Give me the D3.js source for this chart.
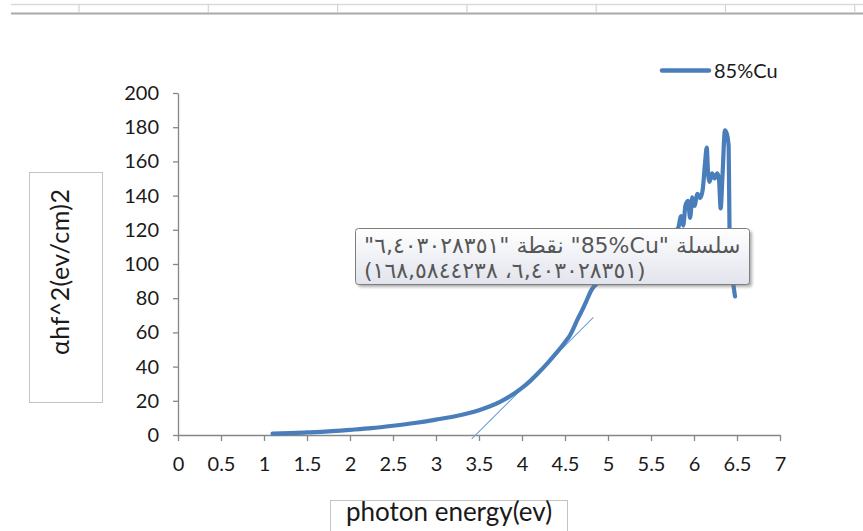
<!DOCTYPE html>
<html>
<head>
<meta charset="utf-8">
<script src="https://cdn.jsdelivr.net/npm/d3@7/dist/d3.min.js"></script>
<style>
  html, body { margin: 0; padding: 0; background: #ffffff; }
  svg { display: block; }
</style>
</head>
<body>
<svg id="chart" width="863" height="531"></svg>
<script>
// ---- data -------------------------------------------------------------
const seriesName = "85%Cu";

// photon energy (eV)
const photonEnergy = [
  1.10, 1.30, 1.50, 1.75, 2.00, 2.25, 2.50, 2.75, 3.00, 3.25,
  3.50, 3.75, 4.00, 4.10, 4.20, 4.30, 4.40, 4.50, 4.56, 4.60,
  4.64, 4.70, 4.75, 4.81, 4.88, 5.00, 5.15, 5.30, 5.45, 5.60,
  5.72, 5.814, 5.85, 5.875, 5.90, 5.93, 5.955, 5.98, 6.005, 6.04,
  6.07, 6.10, 6.13, 6.148, 6.165, 6.18, 6.21, 6.24, 6.27, 6.29,
  6.31, 6.33, 6.36, 6.384, 6.403028351, 6.413, 6.453, 6.477
];

// (αhν)^2
const absorption = [
  0.8, 1.1, 1.5, 2.1, 3.0, 4.0, 5.4, 7.0, 9.0, 11.3,
  14.5, 19.5, 27.5, 31.8, 36.8, 42.2, 48.0, 54.3, 58.5, 62.5,
  67.0, 73.0, 78.5, 85.0, 89.0, 94.0, 99.0, 104.0, 109.0, 113.0,
  118.0, 120.8, 128.0, 122.5, 134.0, 137.0, 127.0, 139.0, 134.0, 141.0,
  138.5, 143.0, 160.0, 168.1, 152.0, 148.0, 153.0, 150.0, 153.0, 150.0,
  132.5, 150.0, 178.1, 175.7, 168.5844238, 120.8, 90.4, 81.0
];

// straight-line fit used to read the band gap
const tangentEnergy = [3.415, 4.83];
const tangentValue  = [-2.3, 68.8];

// hovered point shown in the data tip
const hoverEnergy = 6.403028351;

const xTickValues = [0, 0.5, 1, 1.5, 2, 2.5, 3, 3.5, 4, 4.5, 5, 5.5, 6, 6.5, 7];
const xTickLabels = ["0", "0.5", "1", "1.5", "2", "2.5", "3", "3.5", "4", "4.5", "5", "5.5", "6", "6.5", "7"];
const yTickValues = [0, 20, 40, 60, 80, 100, 120, 140, 160, 180, 200];
const yTickLabels = ["0", "20", "40", "60", "80", "100", "120", "140", "160", "180", "200"];

const xTitle = "photon energy(ev)";
const yTitle = "αhf^2(ev/cm)2";

// ---- drawing ----------------------------------------------------------
const svg = d3.select("#chart");
const lineColor = "#4a7ebb";
const axisColor = "#868686";
const font = "Lato, 'Liberation Sans', sans-serif";

// spreadsheet row strip along the top
const strip = svg.append("g");
strip.append("line").attr("x1", 11).attr("x2", 863).attr("y1", 4.5).attr("y2", 4.5)
  .attr("stroke", "#dadada").attr("stroke-width", 1.5);
strip.append("line").attr("x1", 11).attr("x2", 863).attr("y1", 13.5).attr("y2", 13.5)
  .attr("stroke", "#a9a9a9").attr("stroke-width", 2);
strip.selectAll("line.col").data(d3.range(7)).join("line")
  .attr("class", "col")
  .attr("x1", i => 79 + i * 129.3).attr("x2", i => 79 + i * 129.3)
  .attr("y1", 4).attr("y2", 13)
  .attr("stroke", "#d4d4d4").attr("stroke-width", 1.2);

const x = d3.scaleLinear().domain([0, 7]).range([178, 780]);
const y = d3.scaleLinear().domain([0, 200]).range([435, 93]);

// axes
const xAxis = d3.axisBottom(x)
  .tickValues(xTickValues)
  .tickFormat((d, i) => xTickLabels[i])
  .tickSize(6).tickSizeOuter(0).tickPadding(16);
const yAxis = d3.axisLeft(y)
  .tickValues(yTickValues)
  .tickFormat((d, i) => yTickLabels[i])
  .tickSize(5).tickSizeOuter(0).tickPadding(14);

const gx = svg.append("g").attr("transform", `translate(0,${y(0)})`).call(xAxis);
const gy = svg.append("g").attr("transform", `translate(${x(0)},0)`).call(yAxis);
[gx, gy].forEach(g => {
  g.select(".domain").attr("stroke", axisColor).attr("stroke-width", 1.3);
  g.selectAll(".tick line").attr("stroke", axisColor).attr("stroke-width", 1.3);
  g.selectAll(".tick text")
    .attr("fill", "#1a1a1a")
    .style("font-family", font)
    .style("font-size", "20px");
});

// tangent line
svg.append("line")
  .attr("x1", x(tangentEnergy[0])).attr("y1", y(tangentValue[0]))
  .attr("x2", x(tangentEnergy[1])).attr("y2", y(tangentValue[1]))
  .attr("stroke", "#6e9fd6").attr("stroke-width", 1.1);

// series line
const points = photonEnergy.map((e, i) => [e, absorption[i]]);
const line = d3.line()
  .x(d => x(d[0])).y(d => y(d[1]))
  .curve(d3.curveMonotoneX);
svg.append("path")
  .datum(points)
  .attr("d", line)
  .attr("fill", "none")
  .attr("stroke", lineColor)
  .attr("stroke-width", 4.2)
  .attr("stroke-linejoin", "round")
  .attr("stroke-linecap", "round");

// legend
svg.append("line")
  .attr("x1", 662).attr("x2", 709).attr("y1", 70.5).attr("y2", 70.5)
  .attr("stroke", lineColor).attr("stroke-width", 4.5).attr("stroke-linecap", "round");
svg.append("text")
  .attr("x", 714).attr("y", 77.5)
  .attr("fill", "#1a1a1a")
  .style("font-family", font).style("font-size", "20px")
  .text(seriesName);

// axis titles in bordered boxes
svg.append("rect").attr("x", 29.5).attr("y", 172.5).attr("width", 73).attr("height", 230)
  .attr("fill", "#ffffff").attr("stroke", "#c3c3c3");
svg.append("text")
  .attr("transform", "translate(69,272) rotate(-90)")
  .attr("text-anchor", "middle")
  .attr("textLength", 166)
  .attr("lengthAdjust", "spacing")
  .attr("fill", "#1a1a1a")
  .style("font-family", font).style("font-size", "25px")
  .text(yTitle);

svg.append("rect").attr("x", 330.5).attr("y", 500.5).attr("width", 237).attr("height", 40)
  .attr("fill", "#ffffff").attr("stroke", "#c3c3c3");
svg.append("text")
  .attr("x", 449).attr("y", 521)
  .attr("text-anchor", "middle")
  .attr("fill", "#1a1a1a")
  .style("font-family", font).style("font-size", "26px")
  .text(xTitle);

// data tip for the hovered point
const hovered = points.find(p => p[0] === hoverEnergy);
const arabicDigits = "٠١٢٣٤٥٦٧٨٩";
const toArabic = v => String(v).replace(/\d/g, c => arabicDigits[+c]).replace(".", ",");
const tipLines = [
  `سلسلة "\u2066${seriesName}\u2069" نقطة "${toArabic(hovered[0])}"`,
  `(${toArabic(hovered[0])}، ${toArabic(hovered[1])})`
];

const defs = svg.append("defs");
const grad = defs.append("linearGradient").attr("id", "tipFill")
  .attr("x1", 0).attr("y1", 0).attr("x2", 0).attr("y2", 1);
grad.append("stop").attr("offset", "0%").attr("stop-color", "#ffffff");
grad.append("stop").attr("offset", "100%").attr("stop-color", "#e2e4ed");
defs.append("filter").attr("id", "tipShadow")
  .attr("x", "-10%").attr("y", "-20%").attr("width", "120%").attr("height", "150%")
  .append("feGaussianBlur").attr("stdDeviation", 1.6);

const tip = svg.append("g");
tip.append("rect")
  .attr("x", 358).attr("y", 231).attr("width", 394).attr("height", 56).attr("rx", 3)
  .attr("fill", "#6a6a6a").attr("opacity", 0.55).attr("filter", "url(#tipShadow)");
tip.append("rect")
  .attr("x", 355.5).attr("y", 228.5).attr("width", 394).attr("height", 56).attr("rx", 3)
  .attr("fill", "url(#tipFill)").attr("stroke", "#7d7d7d");
tip.selectAll("text").data(tipLines).join("text")
  .attr("x", 364).attr("y", (d, i) => 253 + i * 25)
  .attr("direction", "rtl")
  .attr("text-anchor", "end")
  .attr("fill", "#575757")
  .style("font-family", "'DejaVu Sans', sans-serif")
  .style("font-size", "22px")
  .text(d => d);
</script>
</body>
</html>
